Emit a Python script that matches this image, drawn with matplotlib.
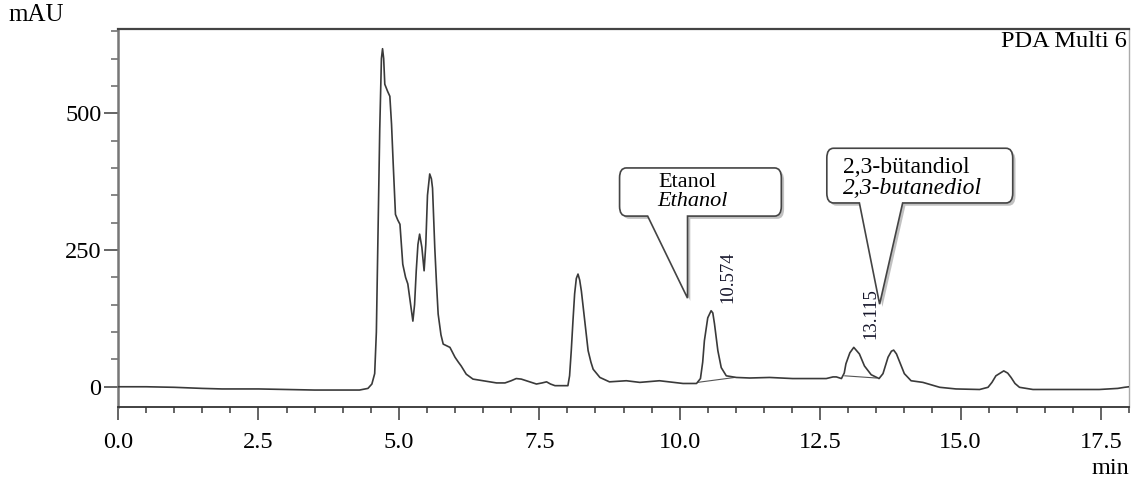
import matplotlib
matplotlib.use('Agg')
import matplotlib.pyplot as plt
from matplotlib.path import Path
from matplotlib.patches import PathPatch
from matplotlib.ticker import MultipleLocator, FormatStrFormatter
import matplotlib.patheffects as pe

# chromatogram trace (min, mAU)
time_min = [0.00, 0.50, 1.00, 1.50, 1.85, 2.50, 3.00, 3.50, 4.00, 4.30, 4.45, 4.52,
            4.57, 4.60, 4.63, 4.66, 4.69, 4.71, 4.73, 4.75, 4.80, 4.84, 4.87, 4.90,
            4.94, 4.98, 5.02, 5.07, 5.12, 5.16, 5.21, 5.25, 5.28, 5.31, 5.34, 5.37,
            5.41, 5.45, 5.48, 5.51, 5.55, 5.58, 5.60, 5.64, 5.67, 5.70, 5.75, 5.79,
            5.85, 5.91, 5.96, 6.00, 6.06, 6.11, 6.20, 6.32, 6.50, 6.74, 6.89, 7.00,
            7.09, 7.18, 7.27, 7.45, 7.55, 7.63, 7.70, 7.78, 8.01, 8.04, 8.07, 8.10,
            8.13, 8.16, 8.19, 8.22, 8.25, 8.31, 8.37, 8.42, 8.46, 8.58, 8.75, 9.05,
            9.29, 9.64, 10.06, 10.30, 10.37, 10.41, 10.44, 10.50, 10.56, 10.59, 10.62,
            10.68, 10.74, 10.83, 11.01, 11.25, 11.60, 12.01, 12.61, 12.73, 12.79,
            12.88, 12.93, 12.96, 13.03, 13.10, 13.20, 13.29, 13.41, 13.55, 13.62,
            13.71, 13.77, 13.81, 13.86, 13.91, 14.00, 14.12, 14.33, 14.63, 14.92,
            15.34, 15.49, 15.56, 15.63, 15.77, 15.84, 15.90, 15.97, 16.05, 16.29,
            16.88, 17.47, 17.80, 17.92, 18.00]
absorbance = [0, 0, -1, -3, -4, -4, -5, -6, -6, -6, -3, 5,
              24, 100, 285, 470, 600, 618, 600, 553, 540, 531, 480, 407,
              315, 305, 297, 224, 200, 188, 150, 120, 150, 212, 260, 279,
              255, 212, 260, 350, 389, 380, 363, 254, 190, 133, 95, 78,
              75, 72, 62, 54, 45, 38, 23, 14, 11, 7, 7, 11,
              15, 14, 11, 5, 7, 9, 5, 2, 2, 20, 66, 120,
              170, 198, 206, 195, 175, 120, 66, 45, 32, 17, 9, 11,
              8, 11, 6, 6, 15, 45, 84, 126, 139, 135, 115,
              66, 35, 20, 17, 16, 17, 15, 15, 18, 18,
              15, 25, 42, 62, 72, 60, 38, 22, 15, 24,
              54, 65, 67, 60, 47, 24, 11, 8, -1, -4,
              -5, -1, 8, 20, 29, 25, 17, 6, -1, -5,
              -5, -5, -3, -1, 0]

# integration baselines under the labelled peaks
base1_t = [10.32, 10.98]
base1_v = [8, 17]
base2_t = [12.94, 13.50]
base2_v = [20, 16]

# labelled peaks
peak_times = [10.574, 13.115]
peak_heights = [139, 72]
peak_labels = ['10.574', '13.115']

fig = plt.figure(figsize=(11.31, 4.83), dpi=100)
ax = fig.add_axes([118 / 1131, 76 / 483, 1011 / 1131, 378 / 483])

serif = ['Liberation Serif', 'DejaVu Serif']
ink = '#3a3a3a'

ax.plot(time_min, absorbance, color=ink, lw=1.2, zorder=3)
ax.plot(base1_t, base1_v, color='#555555', lw=0.8, zorder=2)
ax.plot(base2_t, base2_v, color='#555555', lw=0.8, zorder=2)

for t, h, lab in zip(peak_times, peak_heights, peak_labels):
    ax.annotate(lab, (t, h), xytext=(16, 8), textcoords='offset pixels',
                rotation=90, ha='center', va='bottom', fontsize=13.5,
                family=serif, color='#15152a')

ax.set_xlim(0, 18)
ax.set_ylim(-37, 654)
ax.xaxis.set_major_locator(MultipleLocator(2.5))
ax.xaxis.set_minor_locator(MultipleLocator(0.5))
ax.xaxis.set_major_formatter(FormatStrFormatter('%.1f'))
ax.yaxis.set_major_locator(MultipleLocator(250))
ax.yaxis.set_minor_locator(MultipleLocator(50))

ax.tick_params(axis='x', which='major', length=9, width=1.1, color=ink, pad=9,
               labelsize=17.5)
ax.tick_params(axis='x', which='minor', length=4, width=1.1, color=ink)
ax.tick_params(axis='y', which='major', length=10, width=1.1, color=ink, pad=2,
               labelsize=17.5)
ax.tick_params(axis='y', which='minor', length=5, width=1.1, color='#666666')
for lab in ax.get_xticklabels() + ax.get_yticklabels():
    lab.set_family(serif)

ax.spines['left'].set_color('#777777')
ax.spines['left'].set_linewidth(1.8)
ax.spines['top'].set_color('#444444')
ax.spines['top'].set_linewidth(1.6)
ax.spines['bottom'].set_color('#333333')
ax.spines['bottom'].set_linewidth(1.3)
ax.spines['right'].set_color('#aaaaaa')
ax.spines['right'].set_linewidth(1.0)

ax.text(0.998, 0.968, 'PDA Multi 6', transform=ax.transAxes, ha='right',
        va='center', fontsize=17.5, family=serif)
fig.text(8 / 1131, 1 - 15 / 483, 'mAU', ha='left', va='center', fontsize=18,
         family=serif)
fig.text(1129 / 1131, 1 - 468 / 483, 'min', ha='right', va='center',
         fontsize=17.5, family=serif)


def callout(x0, x1, y0, y1, bl, br, tip, rx=0.12, ry=18):
    verts = [(x0 + rx, y0), (bl, y0), tip, (br, y0), (x1 - rx, y0),
             (x1, y0), (x1, y0 + ry), (x1, y1 - ry), (x1, y1), (x1 - rx, y1),
             (x0 + rx, y1), (x0, y1), (x0, y1 - ry), (x0, y0 + ry), (x0, y0),
             (x0 + rx, y0), (x0 + rx, y0)]
    codes = [Path.MOVETO, Path.LINETO, Path.LINETO, Path.LINETO, Path.LINETO,
             Path.CURVE3, Path.CURVE3, Path.LINETO, Path.CURVE3, Path.CURVE3,
             Path.LINETO, Path.CURVE3, Path.CURVE3, Path.LINETO, Path.CURVE3,
             Path.CURVE3, Path.CLOSEPOLY]
    patch = PathPatch(Path(verts, codes), facecolor='white', edgecolor='#444444',
                      lw=1.2, zorder=5, clip_on=False)
    patch.set_path_effects([pe.SimplePatchShadow(offset=(2, -2),
                                                 shadow_rgbFace='#999999',
                                                 alpha=0.6), pe.Normal()])
    ax.add_patch(patch)


callout(8.93, 11.81, 312, 400, 9.43, 10.14, (10.14, 162))
ax.text(9.62, 374, 'Etanol', fontsize=16, family=serif, va='center', zorder=6)
ax.text(9.60, 339, 'Ethanol', fontsize=16, family=serif, style='italic',
        va='center', zorder=6)

callout(12.62, 15.93, 336, 436, 13.20, 13.97, (13.56, 151))
ax.text(12.91, 400, '2,3-bütandiol', fontsize=17, family=serif, va='center',
        zorder=6)
ax.text(12.91, 362, '2,3-butanediol', fontsize=17, family=serif,
        style='italic', va='center', zorder=6)

fig.savefig('out.png', dpi=100)
